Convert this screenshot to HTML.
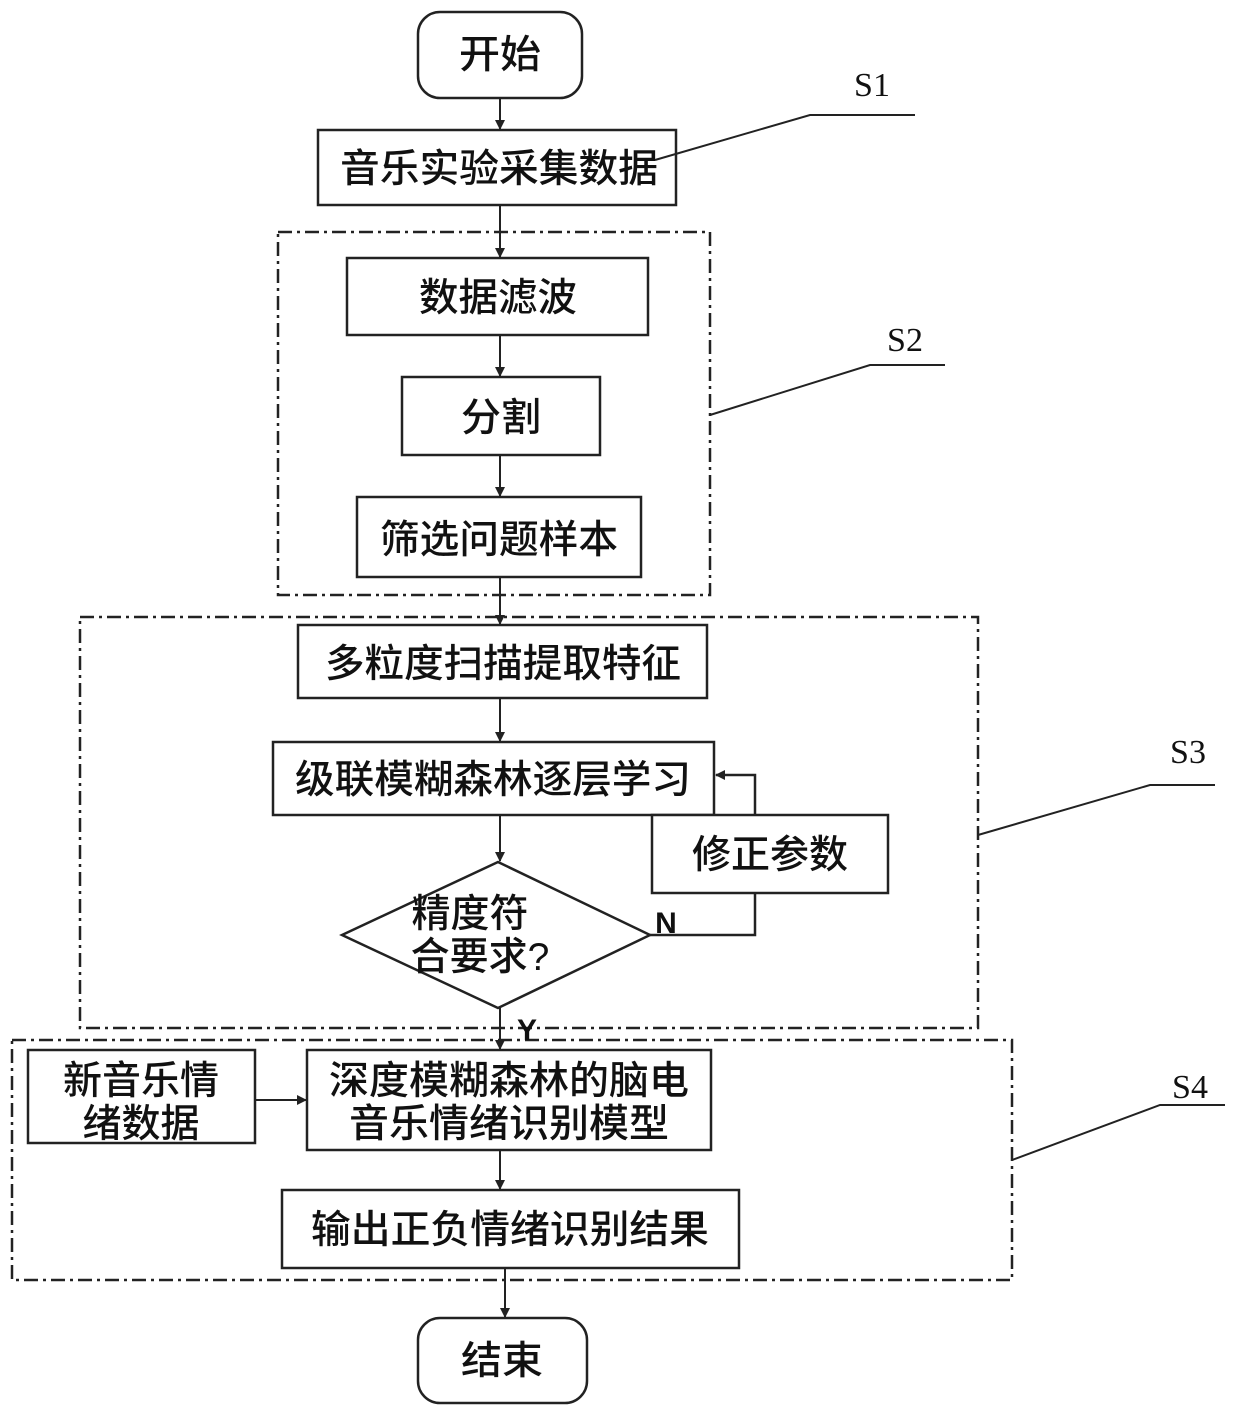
<!DOCTYPE html>
<html><head><meta charset="utf-8"><style>
html,body{margin:0;padding:0;background:#fff;}
svg text{font-family:"Liberation Sans","Noto Sans CJK SC",sans-serif;fill:#111;}
svg text.s{font-family:"Liberation Serif",serif;}
</style></head><body>
<svg width="1240" height="1408" viewBox="0 0 1240 1408" xmlns="http://www.w3.org/2000/svg">
<defs><marker id="a" markerWidth="10" markerHeight="10" refX="9" refY="5" orient="auto" markerUnits="userSpaceOnUse"><path d="M0,0 L10,5 L0,10 z" fill="#222"/></marker></defs>
<g fill="none" stroke="#222" stroke-width="2.5" stroke-dasharray="14,5,3,5">
<rect x="278" y="232" width="432" height="363"/>
<rect x="80" y="617" width="898" height="411"/>
<rect x="12" y="1040" width="1000" height="240"/>
</g>
<g fill="none" stroke="#222" stroke-width="2.5">
<rect x="418" y="12" width="164" height="86" rx="22"/>
<rect x="318" y="130" width="358" height="75"/>
<rect x="347" y="258" width="301" height="77"/>
<rect x="402" y="377" width="198" height="78"/>
<rect x="357" y="497" width="284" height="80"/>
<rect x="298" y="625" width="409" height="73"/>
<rect x="273" y="742" width="441" height="73"/>
<polygon points="342,935 498,862 650,935 498,1008"/>
<polyline points="650,935 755,935 755,775 716,775" marker-end="url(#a)"/>
<rect x="652" y="815" width="236" height="78" fill="#fff"/>
<rect x="28" y="1050" width="227" height="93"/>
<rect x="307" y="1050" width="404" height="100"/>
<rect x="282" y="1190" width="457" height="78"/>
<rect x="418" y="1318" width="169" height="85" rx="22"/>
</g>
<g stroke="#222" stroke-width="2" marker-end="url(#a)">
<line x1="500" y1="98" x2="500" y2="129"/>
<line x1="500" y1="205" x2="500" y2="257"/>
<line x1="500" y1="335" x2="500" y2="376"/>
<line x1="500" y1="455" x2="500" y2="496"/>
<line x1="500" y1="577" x2="500" y2="624"/>
<line x1="500" y1="698" x2="500" y2="741"/>
<line x1="500" y1="815" x2="500" y2="861"/>
<line x1="500" y1="1008" x2="500" y2="1049"/>
<line x1="255" y1="1100" x2="306" y2="1100"/>
<line x1="500" y1="1150" x2="500" y2="1189"/>
<line x1="505" y1="1268" x2="505" y2="1317"/>
</g>
<g fill="none" stroke="#222" stroke-width="2">
<polyline points="655,160 810,115 915,115"/>
<polyline points="710,415 870,365 945,365"/>
<polyline points="978,835 1150,785 1215,785"/>
<polyline points="1012,1160 1160,1105 1225,1105"/>
</g>
<g font-size="39" text-anchor="middle" font-weight="500">
<text x="500" y="68" textLength="82" lengthAdjust="spacingAndGlyphs">开始</text>
<text x="499" y="182" textLength="318" lengthAdjust="spacingAndGlyphs">音乐实验采集数据</text>
<text x="498" y="311" textLength="158" lengthAdjust="spacingAndGlyphs">数据滤波</text>
<text x="501" y="431" textLength="80" lengthAdjust="spacingAndGlyphs">分割</text>
<text x="499" y="553" textLength="238" lengthAdjust="spacingAndGlyphs">筛选问题样本</text>
<text x="503" y="677" textLength="356" lengthAdjust="spacingAndGlyphs">多粒度扫描提取特征</text>
<text x="493" y="793" textLength="396" lengthAdjust="spacingAndGlyphs">级联模糊森林逐层学习</text>
<text x="770" y="868" textLength="156" lengthAdjust="spacingAndGlyphs">修正参数</text>
<text x="470" y="927">精度符</text>
<text x="480" y="970">合要求?</text>
<text x="141" y="1094">新音乐情</text>
<text x="141" y="1137">绪数据</text>
<text x="509" y="1094" textLength="360" lengthAdjust="spacingAndGlyphs">深度模糊森林的脑电</text>
<text x="509" y="1137" textLength="320" lengthAdjust="spacingAndGlyphs">音乐情绪识别模型</text>
<text x="510" y="1243" textLength="398" lengthAdjust="spacingAndGlyphs">输出正负情绪识别结果</text>
<text x="502" y="1374" textLength="82" lengthAdjust="spacingAndGlyphs">结束</text>
</g>
<g font-size="34" text-anchor="middle">
<text class="s" x="872" y="96">S1</text>
<text class="s" x="905" y="351">S2</text>
<text class="s" x="1188" y="763">S3</text>
<text class="s" x="1190" y="1098">S4</text>
</g>
<text x="666" y="933" font-size="30" font-weight="bold" text-anchor="middle">N</text>
<text x="527" y="1040" font-size="30" font-weight="bold" text-anchor="middle">Y</text>
</svg>
</body></html>
